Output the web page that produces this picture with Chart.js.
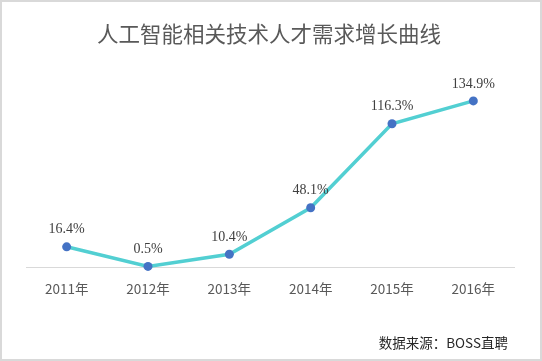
<!DOCTYPE html>
<html>
<head>
<meta charset="utf-8">
<script src="https://cdn.jsdelivr.net/npm/chart.js@4/dist/chart.umd.min.js"></script>
<style>
  html, body { margin: 0; padding: 0; background: #fff; }
  #wrap { width: 542px; height: 361px; position: relative; }
</style>
</head>
<body>
<div id="wrap"><canvas id="c" width="542" height="361"></canvas></div>
<script>
const titleText = '人工智能相关技术人才需求增长曲线';
const sourceText = '数据来源：BOSS直聘';
const categories = ['2011年', '2012年', '2013年', '2014年', '2015年', '2016年'];
const growthValues = [16.4, 0.5, 10.4, 48.1, 116.3, 134.9];
const valueLabels = ['16.4%', '0.5%', '10.4%', '48.1%', '116.3%', '134.9%'];

const cjk = '"Noto Sans CJK SC", "Noto Sans", sans-serif';

const decor = {
  id: 'decor',
  afterDatasetsDraw(chart) {
    const ctx = chart.ctx;
    const meta = chart.getDatasetMeta(0);
    ctx.save();
    ctx.font = '14px "Liberation Serif", "Times New Roman", serif';
    ctx.fillStyle = '#404040';
    ctx.textAlign = 'center';
    ctx.textBaseline = 'middle';
    meta.data.forEach((pt, i) => {
      ctx.fillText(valueLabels[i], pt.x, pt.y - 17);
    });
    ctx.restore();
  },
  afterDraw(chart) {
    const ctx = chart.ctx;
    ctx.save();
    ctx.fillStyle = '#595959';
    ctx.font = '21.5px ' + cjk;
    ctx.textAlign = 'center';
    ctx.textBaseline = 'middle';
    ctx.fillText(titleText, 269, 34);
    ctx.fillStyle = '#262626';
    ctx.font = '13.5px ' + cjk;
    ctx.textAlign = 'right';
    ctx.fillText(sourceText, 508, 343);
    ctx.strokeStyle = '#d9d9d9';
    ctx.lineWidth = 2;
    ctx.strokeRect(1, 1, 540, 359);
    ctx.restore();
  }
};

new Chart(document.getElementById('c'), {
  type: 'line',
  data: {
    labels: categories,
    datasets: [{
      data: growthValues,
      borderColor: '#52CFD2',
      borderWidth: 3.5,
      pointBackgroundColor: '#4472C4',
      pointBorderColor: '#4472C4',
      pointRadius: 4.5,
      pointBorderWidth: 0,
      tension: 0,
      clip: false
    }]
  },
  options: {
    responsive: false,
    animation: false,
    devicePixelRatio: 1,
    layout: { padding: { top: 70, left: 26, right: 28, bottom: 62 } },
    plugins: { legend: { display: false }, tooltip: { enabled: false }, title: { display: false } },
    scales: {
      x: {
        offset: true,
        grid: { display: false, drawTicks: false },
        border: { display: true, color: '#d9d9d9', width: 1 },
        ticks: { color: '#595959', font: { family: cjk, size: 13.5 }, padding: 14, maxRotation: 0 },
        afterFit(scale) { scale.height = 32; }
      },
      y: {
        display: false,
        min: 0,
        max: 160
      }
    }
  },
  plugins: [decor]
});
</script>
</body>
</html>
